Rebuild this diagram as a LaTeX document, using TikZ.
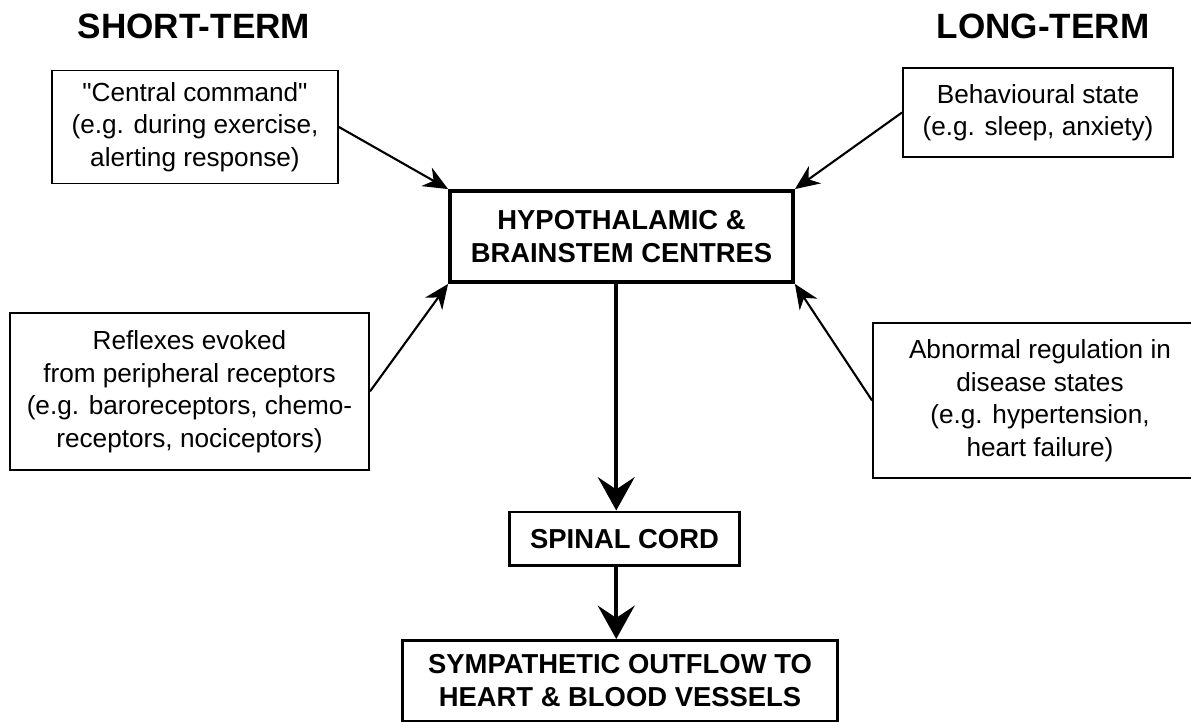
\documentclass[tikz,border=0pt]{standalone}
\usepackage{fontspec}
\setmainfont{Liberation Sans}
\usepackage{tikz}
\usetikzlibrary{positioning,arrows.meta}

\begin{document}
\begin{tikzpicture}[x=0.02cm, y=-0.02cm,
    source/.style={rectangle, draw, line width=1.1pt, align=center, inner sep=2pt, font=\fontsize{14.9}{18.5}\selectfont},
    centre/.style={rectangle, draw, align=center, inner sep=2pt, font=\fontsize{15.6}{18.8}\selectfont\bfseries},
    heading/.style={font=\fontsize{20}{24}\selectfont\bfseries},
    input/.style={->, >={Stealth[length=14pt, width=12pt, inset=4.5pt]}, line width=1.2pt},
    output/.style={->, >={Stealth[length=19pt, width=21pt, inset=7pt]}, line width=2.2pt}
]
\useasboundingbox (0,0) rectangle (1191,722);

% time scale headings
\node[heading] (short) at (194,26) {SHORT-TERM};
\node[heading] (long) at (1043,26) {LONG-TERM};

% inputs
\node[source, minimum width=5.72cm, minimum height=2.26cm] (command) at (195,127) {\textquotedbl Central command\textquotedbl\\(e.g. during exercise,\\alerting response)};
\node[source, minimum width=5.40cm, minimum height=1.78cm] (behaviour) at (1038,112.5) {Behavioural state\\(e.g. sleep, anxiety)};
\node[source, minimum width=7.18cm, minimum height=3.14cm] (reflex) at (189.5,391.5) {Reflexes evoked\\from peripheral receptors\\(e.g. baroreceptors, chemo-\\receptors, nociceptors)};
\node[source, minimum width=6.68cm, minimum height=3.10cm] (disease) at (1040,400.5) {Abnormal regulation in\\disease states\\(e.g. hypertension,\\heart failure)};

% central pathway
\node[centre, line width=2.2pt, minimum width=6.86cm, minimum height=1.82cm] (hypo) at (621.5,236.5) {HYPOTHALAMIC \&\\BRAINSTEM CENTRES};
\node[centre, line width=1.7pt, minimum width=4.62cm, minimum height=1.08cm] (spinal) at (624.5,539) {SPINAL CORD};
\node[centre, line width=1.7pt, minimum width=8.72cm, minimum height=1.62cm] (outflow) at (620,681) {SYMPATHETIC OUTFLOW TO\\HEART \& BLOOD VESSELS};

\draw[input] (command.east) -- (hypo.north west);
\draw[input] (behaviour.west) -- (hypo.north east);
\draw[input] (reflex.east) -- (hypo.south west);
\draw[input] (disease.west) -- (hypo.south east);

\draw[output] ([xshift=-3pt]hypo.south) -- ([xshift=-3pt]hypo.south |- spinal.north);
\draw[output] ([xshift=-3pt]hypo.south |- spinal.south) -- ([xshift=-3pt]hypo.south |- outflow.north);
\end{tikzpicture}
\end{document}
